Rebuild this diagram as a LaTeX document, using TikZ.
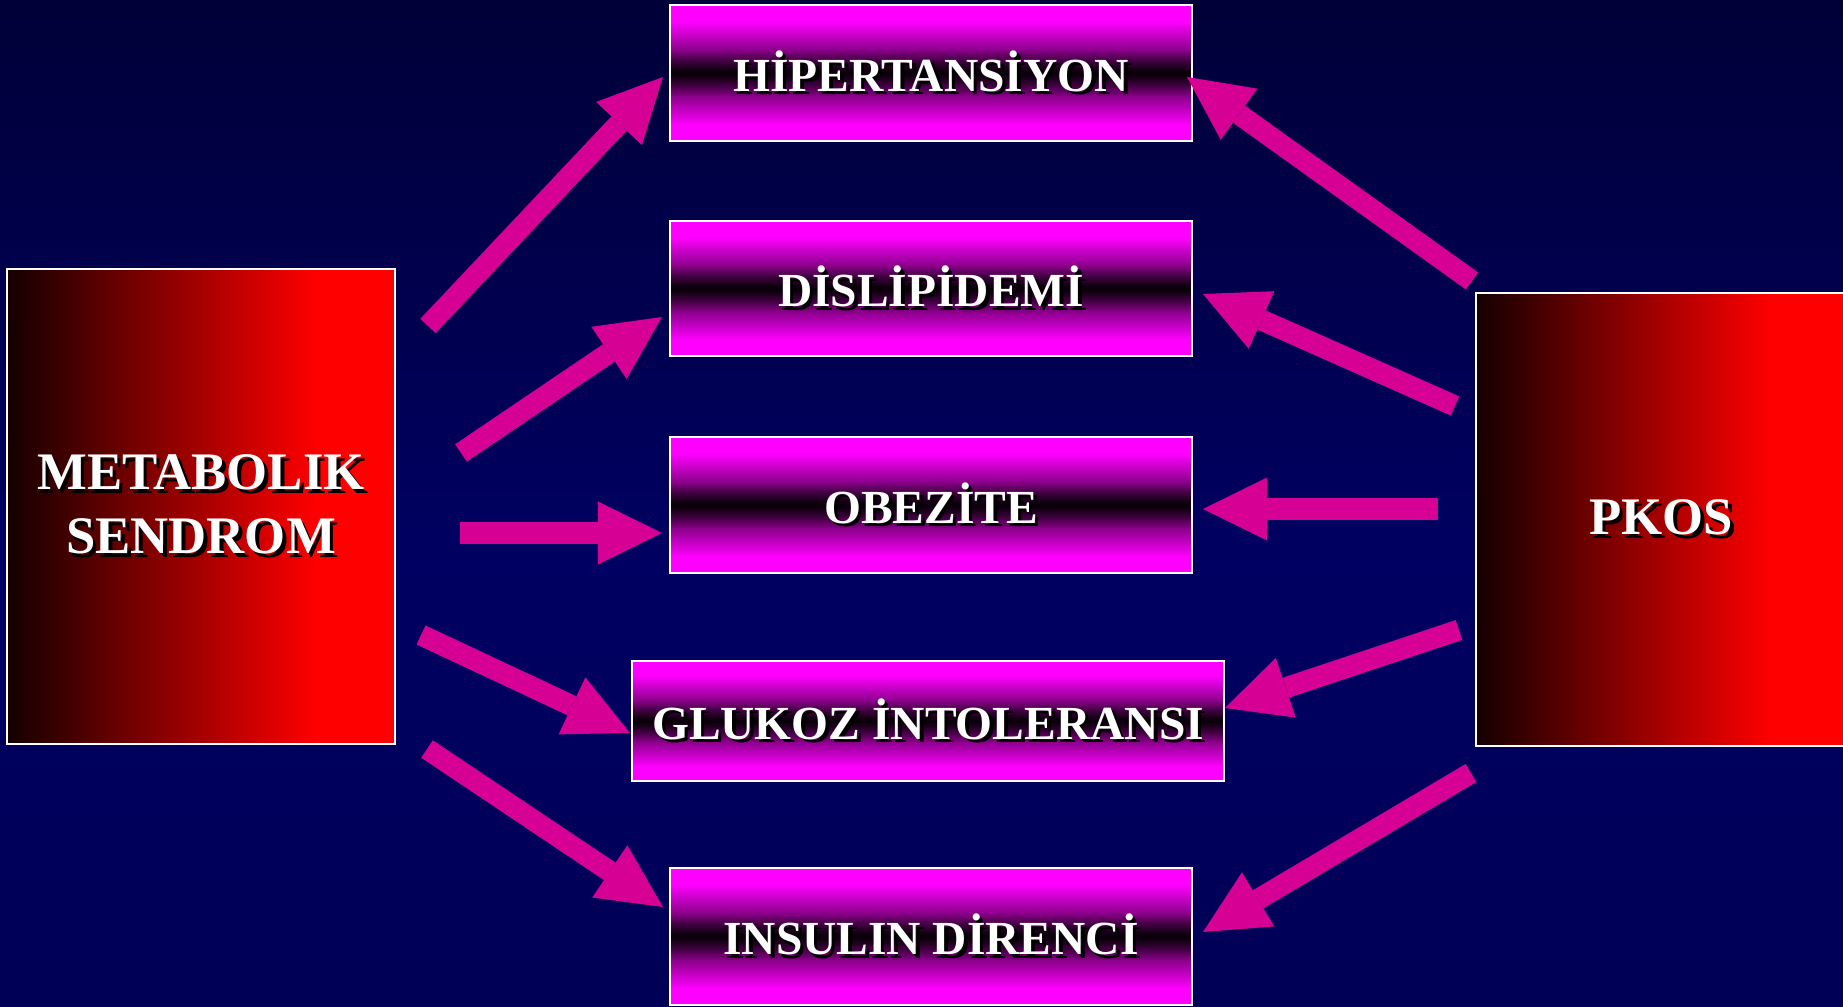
\documentclass[tikz,border=0pt]{standalone}
\usepackage{fontspec}
\setmainfont{Liberation Serif}
\usetikzlibrary{arrows.meta}
\definecolor{arrowpink}{RGB}{214,0,148}
\definecolor{mgA}{RGB}{255,0,255}
\definecolor{mgC}{RGB}{199,0,199}
\definecolor{mgD}{RGB}{145,0,145}
\definecolor{mgE}{RGB}{64,0,64}
\definecolor{mgF}{RGB}{15,0,15}
\definecolor{mgG}{RGB}{8,0,8}
\definecolor{bgtop}{RGB}{0,0,56}
\definecolor{bgmid}{RGB}{0,0,98}
\definecolor{bgbot}{RGB}{0,0,86}
\definecolor{redA}{RGB}{20,0,0}
\definecolor{redB}{RGB}{255,0,0}
\pgfdeclareverticalshading{pinkband}{100bp}{color(0bp)=(mgA); color(25bp)=(mgA); color(31bp)=(mgA); color(36bp)=(mgC); color(41bp)=(mgD); color(45.5bp)=(mgE); color(49bp)=(mgF); color(50bp)=(mgG); color(51bp)=(mgF); color(54.5bp)=(mgE); color(59bp)=(mgD); color(64bp)=(mgC); color(69bp)=(mgA); color(75bp)=(mgA); color(100bp)=(mgA)}
\pgfdeclarehorizontalshading{redgrad}{100bp}{color(0bp)=(redA); color(25bp)=(redA); color(65bp)=(redB); color(75bp)=(redB); color(100bp)=(redB)}
\pgfdeclareverticalshading{bgshade}{100bp}{color(0bp)=(bgbot); color(25bp)=(bgbot); color(47bp)=(bgmid); color(75bp)=(bgtop); color(100bp)=(bgtop)}
\newcommand\shtext[1]{\makebox[0pt][l]{\hspace{1pt}\raisebox{-1pt}{\textcolor{black}{#1}}}#1}
\begin{document}
\begin{tikzpicture}[x=0.01cm,y=-0.01cm,
  smallbox/.style={draw=white, line width=0.02cm, shading=pinkband, text=white,
    font=\fontsize{13.5}{16}\selectfont\bfseries, inner sep=0pt},
  bigbox/.style={draw=white, line width=0.02cm, shading=redgrad, text=white, align=center,
    font=\fontsize{15}{18.2}\selectfont\bfseries, inner sep=0pt},
  arr/.style={color=arrowpink, line width=0.21cm,
    -{Triangle[length=0.64cm,width=0.63cm,line width=0pt]}}]
\useasboundingbox (0,0) rectangle (1843,1007);
\clip (0,0) rectangle (1843,1007);
\shade[shading=bgshade] (0,0) rectangle (1843,1007);

% left and right main boxes
\node[bigbox, minimum width=3.88cm, minimum height=4.75cm] (ms) at (201,506.5)
  {\shtext{METABOLIK}\\\shtext{SENDROM}};
\node[bigbox, minimum width=3.70cm, minimum height=4.53cm] (pkos) at (1661,519.5)
  {\shtext{PKOS}};

% middle boxes
\node[smallbox, minimum width=5.22cm, minimum height=1.36cm] (hip) at (931,73) {\shtext{HİPERTANSİYON}};
\node[smallbox, minimum width=5.22cm, minimum height=1.35cm] (dis) at (931,288.5) {\shtext{DİSLİPİDEMİ}};
\node[smallbox, minimum width=5.22cm, minimum height=1.36cm] (obe) at (931,505) {\shtext{OBEZİTE}};
\node[smallbox, minimum width=5.92cm, minimum height=1.20cm] (glu) at (928,721) {\shtext{GLUKOZ İNTOLERANSI}};
\node[smallbox, minimum width=5.22cm, minimum height=1.37cm] (ins) at (931,936.5) {\shtext{INSULIN DİRENCİ}};

% arrow end points
\coordinate (a1s) at (428,326);  \coordinate (a1e) at (663,77);
\coordinate (a2s) at (461,453);  \coordinate (a2e) at (662,317);
\coordinate (a3s) at (460,533);  \coordinate (a3e) at (662,533);
\coordinate (a4s) at (421,635);  \coordinate (a4e) at (630,733);
\coordinate (a5s) at (427,749);  \coordinate (a5e) at (663,907);
\coordinate (b1s) at (1472,281); \coordinate (b1e) at (1187,77);
\coordinate (b2s) at (1455,406); \coordinate (b2e) at (1203,294);
\coordinate (b3s) at (1438,509); \coordinate (b3e) at (1203,509);
\coordinate (b4s) at (1459,630); \coordinate (b4e) at (1225,708);
\coordinate (b5s) at (1471,773); \coordinate (b5e) at (1203,932);

\draw[arr] (a1s) -- (a1e);
\draw[arr] (a2s) -- (a2e);
\draw[arr] (a3s) -- (a3e);
\draw[arr] (a4s) -- (a4e);
\draw[arr] (a5s) -- (a5e);
\draw[arr] (b1s) -- (b1e);
\draw[arr] (b2s) -- (b2e);
\draw[arr] (b3s) -- (b3e);
\draw[arr] (b4s) -- (b4e);
\draw[arr] (b5s) -- (b5e);
\end{tikzpicture}
\end{document}
